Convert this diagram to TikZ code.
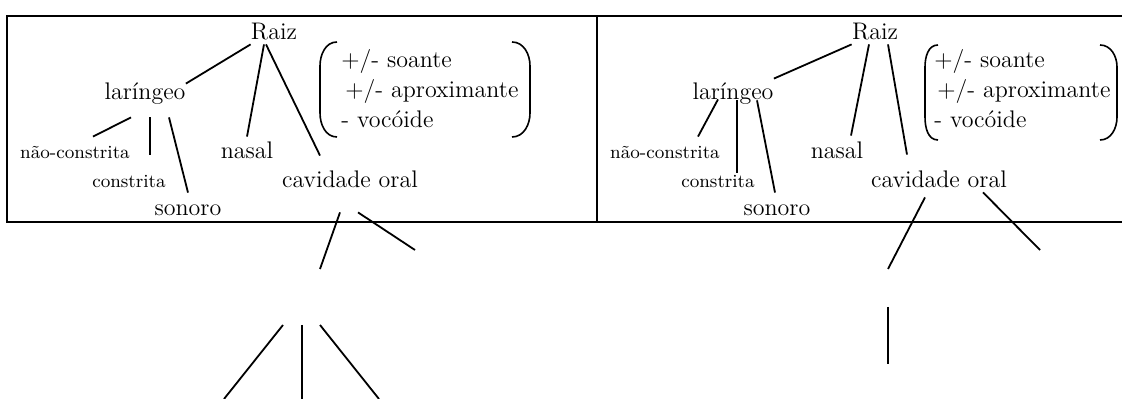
\documentclass[tikz,border=0pt]{standalone}
\usepackage{tikz}

\begin{document}
\begin{tikzpicture}[
    x=0.5pt, y=-0.5pt,
    every node/.style={inner sep=0pt, anchor=base},
    cat/.style={font=\fontsize{12}{14}\selectfont, text height=8pt, text depth=2pt},
    sub/.style={font=\fontsize{9.3}{11}\selectfont, text height=6.5pt, text depth=1.5pt},
    feat/.style={font=\fontsize{12}{14}\selectfont, anchor=base west},
    branch/.style={line width=0.9pt},
    frame/.style={line width=1.4pt},
    paren/.style={line width=0.8pt}
  ]
  \useasboundingbox (0,0) rectangle (1122,399);

  % ---- table ----
  \draw[frame] (1122,16) -- (7,16) -- (7,222) -- (1122,222);
  \draw[frame] (597,16) -- (597,222);

  % ---- left tree ----
  \node[cat] (raizL)   at (274,40)  {Raiz};
  \node[cat] (laringL) at (145,100) {laríngeo};
  \node[sub] (naoL)    at (75,159)  {não-constrita};
  \node[sub] (constL)  at (129,188) {constrita};
  \node[cat] (sonL)    at (188,216) {sonoro};
  \node[cat] (nasalL)  at (247,159) {nasal};
  \node[cat] (cavL)    at (350,188) {cavidade oral};

  % features
  \node[feat] (featLa) at (341,68)  {+/- soante};
  \node[feat] (featLb) at (345,98)  {+/- aproximante};
  \node[feat] (featLc) at (341,128) {- vocóide};
  \draw[paren] (337,42) to[out=180,in=90] (320,66) -- (320,113) to[out=-90,in=180] (337,137);
  \draw[paren] (512,42) to[out=0,in=90] (530,66) -- (530,113) to[out=-90,in=0] (512,137);

  \draw[branch] (raizL.south west) -- (laringL.north east);
  \draw[branch] ([xshift=-5pt]raizL.south) -- ([yshift=3pt]nasalL.north);
  \draw[branch] ([xshift=-4pt]raizL.south) -- ([xshift=-15pt,yshift=8pt]cavL.north);
  \draw[branch] ([xshift=-7pt,yshift=-6.5pt]laringL.south) -- ([xshift=9pt,yshift=4.5pt]naoL.north);
  \draw[branch] ([xshift=2.5pt,yshift=-6.5pt]laringL.south) -- ([xshift=10.5pt,yshift=10pt]constL.north);
  \draw[branch] ([xshift=12pt,yshift=-6.5pt]laringL.south) -- ([yshift=3.5pt]sonL.north);

  % below cavidade oral
  \coordinate (cavLa) at (320,269);
  \coordinate (cavLb) at (415,250);
  \draw[branch] ([xshift=-5pt,yshift=-10pt]cavL.south) -- (cavLa);
  \draw[branch] ([xshift=4pt,yshift=-10pt]cavL.south) -- (cavLb);

  \coordinate (topLa) at (283,325);  \coordinate (endLa) at (224,399);
  \coordinate (topLb) at (302,325);  \coordinate (endLb) at (302,399);
  \coordinate (topLc) at (320,325);  \coordinate (endLc) at (379,399);
  \draw[branch] (topLa) -- (endLa);
  \draw[branch] (topLb) -- (endLb);
  \draw[branch] (topLc) -- (endLc);

  % ---- right tree ----
  \node[cat] (raizR)   at (875,40)  {Raiz};
  \node[cat] (laringR) at (733,100) {laríngeo};
  \node[sub] (naoR)    at (665,159) {não-constrita};
  \node[sub] (constR)  at (718,188) {constrita};
  \node[cat] (sonR)    at (777,216) {sonoro};
  \node[cat] (nasalR)  at (837,159) {nasal};
  \node[cat] (cavR)    at (939,188) {cavidade oral};

  % features
  \node[feat] (featRa) at (934,68)  {+/- soante};
  \node[feat] (featRb) at (937,98)  {+/- aproximante};
  \node[feat] (featRc) at (934,128) {- vocóide};
  \draw[paren] (938,45) to[out=180,in=90] (925,67) -- (925,117) to[out=-90,in=180] (938,140);
  \draw[paren] (1100,45) to[out=0,in=90] (1117,67) -- (1117,117) to[out=-90,in=0] (1100,140);

  \draw[branch] (raizR.south west) -- ([yshift=2.5pt]laringR.north east);
  \draw[branch] ([xshift=-3pt]raizR.south) -- ([xshift=7pt,yshift=3.5pt]nasalR.north);
  \draw[branch] ([xshift=6.5pt]raizR.south) -- ([xshift=-16pt,yshift=8.5pt]cavR.north);
  \draw[branch] ([xshift=-7.5pt,yshift=2.5pt]laringR.south) -- ([xshift=16.5pt,yshift=4.5pt]naoR.north);
  \draw[branch] ([xshift=2pt,yshift=2pt]laringR.south) -- ([xshift=9.5pt,yshift=1pt]constR.north);
  \draw[branch] ([xshift=12pt,yshift=2pt]laringR.south) -- ([xshift=-1pt,yshift=3.5pt]sonR.north);

  % below cavidade oral
  \coordinate (cavRa) at (888,269);
  \coordinate (cavRb) at (1040,250);
  \draw[branch] ([xshift=-7pt,yshift=-2.5pt]cavR.south) -- (cavRa);
  \draw[branch] ([xshift=22pt]cavR.south) -- (cavRb);

  \coordinate (topR) at (888,307);
  \coordinate (endR) at (888,364);
  \draw[branch] (topR) -- (endR);
\end{tikzpicture}
\end{document}
